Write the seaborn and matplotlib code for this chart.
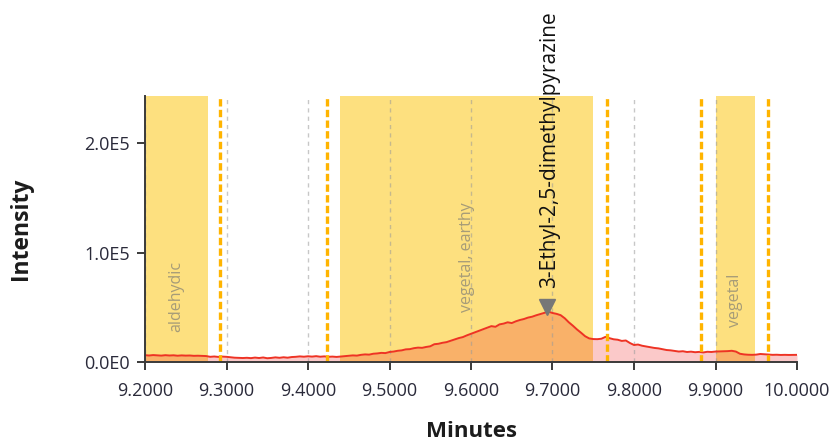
import numpy as np
import pandas as pd
import matplotlib
matplotlib.use("Agg")
import matplotlib.pyplot as plt
from matplotlib.ticker import FormatStrFormatter
import seaborn as sns

# ---------------- data ----------------
time_start = 9.200
time_step = 0.005
intensity_k = [
    # 9.200 - 9.275
    6.5, 6.2, 6.6, 6.3, 6.1, 6.5, 6.2, 6.4, 6.0, 6.3, 6.1, 6.2, 5.9, 6.0, 5.8, 5.7,
    # 9.280 - 9.435
    5.0, 5.3, 4.9, 5.2, 5.0, 4.6, 4.2, 4.0, 3.9, 4.1, 3.8, 4.3, 3.9, 4.4, 3.7, 4.0,
    4.5, 4.1, 4.6, 4.2, 4.8, 5.0, 5.4, 5.1, 5.5, 5.2, 5.6, 5.1, 5.4, 5.0, 5.2, 4.9,
    # 9.440 - 9.595
    5.3, 5.6, 5.9, 6.3, 6.1, 6.8, 7.2, 7.0, 7.8, 8.1, 8.6, 8.4, 9.4, 9.8, 10.5, 10.9,
    11.8, 12.0, 12.9, 13.4, 13.2, 14.0, 14.6, 16.5, 16.9, 17.8, 18.4, 19.6, 20.9, 22.1, 23.0, 24.6,
    # 9.600 - 9.695
    26.0, 27.4, 28.9, 30.1, 31.5, 33.0, 32.4, 34.6, 35.3, 36.5,
    35.8, 37.4, 38.6, 39.5, 40.8, 41.6, 42.9, 44.0, 45.1, 46.2,
    # 9.700 - 9.795
    45.0, 44.2, 43.0, 40.2, 36.5, 33.4, 30.0, 27.0, 23.8, 21.8,
    21.2, 21.1, 21.5, 23.2, 22.0, 21.0, 20.6, 19.5, 19.9, 17.6,
    # 9.800 - 9.895
    15.8, 16.2, 15.1, 14.4, 13.8, 13.1, 12.7, 11.9, 11.2, 10.9,
    10.3, 9.8, 10.1, 9.4, 9.7, 9.2, 9.5, 9.0, 9.6, 9.4,
    # 9.900 - 10.000
    9.8, 9.9, 10.0, 10.2, 10.5, 9.8, 7.8, 7.2, 6.9, 6.8,
    7.0, 7.6, 7.3, 7.1, 6.8, 6.9, 6.7, 6.8, 6.7, 6.8, 6.8,
]

band_start = [9.200, 9.439, 9.900]
band_end = [9.2775, 9.750, 9.9485]
band_labels = ["aldehydic", "vegetal, earthy", "vegetal"]
band_label_y = [27700, 46000, 32000]

marker_lines = [9.292, 9.423, 9.7665, 9.882, 9.965]

peak_time = 9.693
peak_marker_y = 50500
peak_label = "3-Ethyl-2,5-dimethylpyrazine"

x_ticks = [9.2, 9.3, 9.4, 9.5, 9.6, 9.7, 9.8, 9.9, 10.0]
y_ticks = [0, 100000, 200000]
y_tick_labels = ["0.0E0", "1.0E5", "2.0E5"]

# ---------------- build frame ----------------
times = time_start + time_step * np.arange(len(intensity_k))
df = pd.DataFrame({"Minutes": times, "Intensity": np.array(intensity_k) * 1000.0})

# ---------------- style ----------------
sns.set_theme(style="white")
plt.rcParams["font.family"] = ["Open Sans", "DejaVu Sans"]

fig = plt.figure(figsize=(8.30, 4.47), dpi=100)
ax = fig.add_axes([145 / 830, 1 - 362.3 / 447, 652 / 830, 266.3 / 447])

BAND = "#FDE07F"
DASH = "#FFB400"
LINE = "#EE3324"
TXT = "#1c1c1c"

for s, e in zip(band_start, band_end):
    ax.axvspan(s, e, color=BAND, lw=0, zorder=0)

ax.fill_between(df["Minutes"], 0, df["Intensity"], color="#F02828", alpha=0.25, lw=0, zorder=1)
sns.lineplot(data=df, x="Minutes", y="Intensity", ax=ax, color=LINE, lw=1.4, zorder=3)

# gridlines at ticks
for xt in x_ticks[:-1]:
    ax.axvline(xt, color="#9a9a9a", lw=1.0, ls=(0, (3, 3)), alpha=0.55, zorder=2)

for xm in marker_lines:
    ax.axvline(xm, color=DASH, lw=2.4, ls=(0, (2.2, 1.0)), zorder=4)

for s, e, lab, ly in zip(band_start, band_end, band_labels, band_label_y):
    ax.text((s + e) / 2, ly, lab, rotation=90, ha="center", va="bottom",
            fontsize=11.5, color="#a69c78", zorder=5)

ax.plot([peak_time], [peak_marker_y], marker="v", ms=12, color="#777777", ls="none", zorder=6)
ax.annotate(peak_label, xy=(peak_time, peak_marker_y), xytext=(2, 14),
            textcoords="offset points", rotation=90, ha="center", va="bottom",
            fontsize=15, color="#111111", annotation_clip=False, zorder=7)

ax.set_xlim(9.2, 10.0)
ax.set_ylim(0, 243000)
ax.set_xticks(x_ticks)
ax.xaxis.set_major_formatter(FormatStrFormatter("%.4f"))
ax.set_yticks(y_ticks)
ax.set_yticklabels(y_tick_labels)

for side in ["top", "right"]:
    ax.spines[side].set_visible(False)
for side in ["left", "bottom"]:
    ax.spines[side].set_color("#3a3a3a")
    ax.spines[side].set_linewidth(1.4)
    ax.spines[side].set_zorder(8)

ax.tick_params(axis="both", which="major", length=6, width=1.4, color="#3a3a3a",
               labelsize=13, labelcolor="#2a2a3a", direction="out",
               bottom=True, left=True)
ax.tick_params(axis="x", pad=8)
ax.tick_params(axis="y", pad=5)

ax.set_xlabel("Minutes", fontsize=16, fontweight="bold", color=TXT)
ax.set_ylabel("Intensity", fontsize=16.5, fontweight="bold", color=TXT)
ax.xaxis.set_label_coords(0.5, -0.222)
ax.yaxis.set_label_coords(-0.172, 0.5)

fig.savefig("out.png", dpi=100)
